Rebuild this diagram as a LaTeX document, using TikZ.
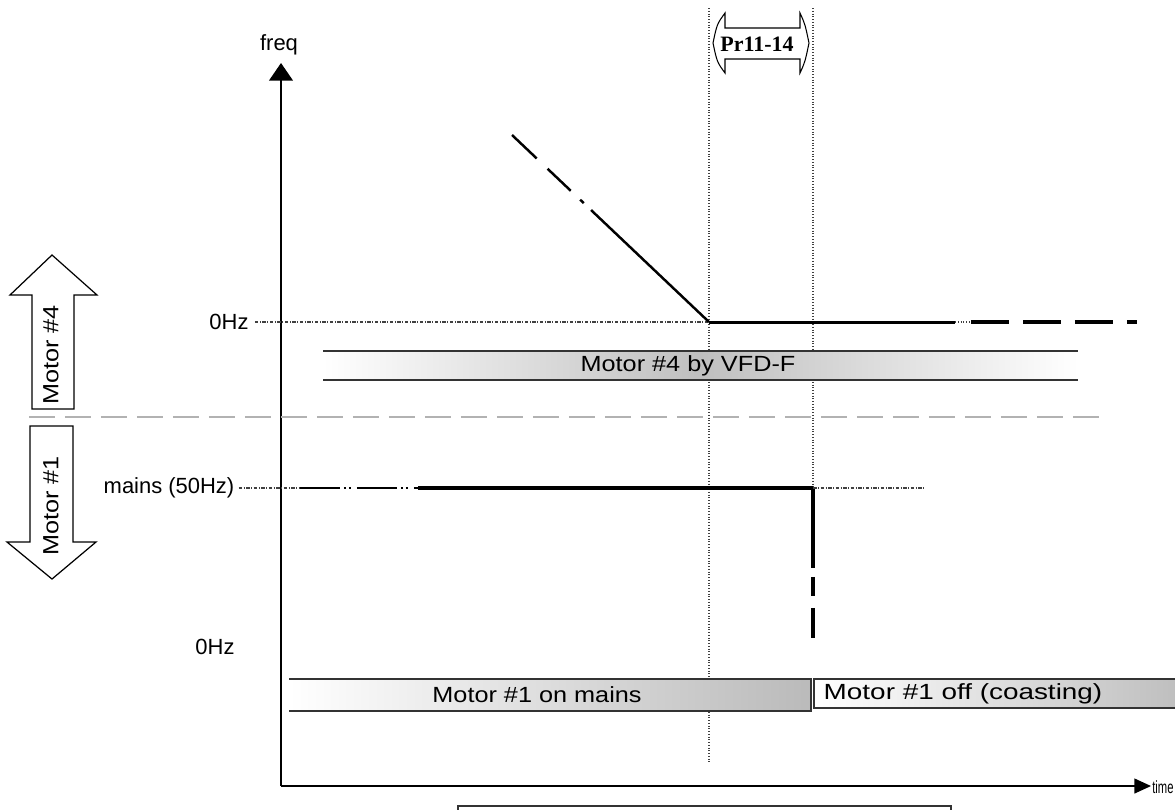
\documentclass[tikz,border=0pt]{standalone}
\usepackage{fontspec}
\setmainfont{Liberation Sans}
\newfontfamily\chartfont{Liberation Sans}
\newfontfamily\widefont[FakeStretch=1.15]{Liberation Sans}
\newfontfamily\coastfont[FakeStretch=1.27]{Liberation Sans}
\newfontfamily\smallfont[FakeStretch=0.64]{Liberation Sans}
\newfontfamily\parfont{Liberation Serif}
\usetikzlibrary{arrows.meta}

\begin{document}
\begin{tikzpicture}[x=0.02cm, y=-0.02cm, line join=miter,
    lbl/.style={font=\chartfont\fontsize{12.5}{14}\selectfont, inner sep=0pt},
    barlbl/.style={font=\widefont\fontsize{12.5}{14}\selectfont, inner sep=0pt},
    guide/.style={black!75, line width=0.6pt, dash pattern=on 0.02cm off 0.035cm},
    guideH/.style={black!75, line width=0.6pt, dash pattern=on 0.07cm off 0.03cm on 0.02cm off 0.03cm},
    trace/.style={black, line width=1.6pt},
    blockarrow/.style={draw=black, fill=white, line width=0.7pt}]

  \useasboundingbox (0,0) rectangle (1175,809);

  % Colors
  \colorlet{edgeCol}{black!80}
  \colorlet{sepCol}{black!30}
  \colorlet{barGray}{black!25}

  % Key points
  \coordinate (O)        at (281,786);
  \coordinate (fTop)     at (281,63);
  \coordinate (tEnd)     at (1151,786);
  \coordinate (rampTop)  at (512,135);
  \coordinate (vfdStart) at (709,322);
  \coordinate (mainsOff) at (813,488);

  % Time marks (vertical guides)
  \draw[guide] (709,8) -- (709,762);
  \draw[guide] (813,8) -- (mainsOff);

  % Pr11-14 interval
  \draw[blockarrow, line width=0.6pt] (725,28) -- (725,13) .. controls (717,24) .. (713,43)
    .. controls (717,62) .. (725,73) -- (725,59) -- (800,59) -- (800,73)
    .. controls (805,62) .. (809,43) .. controls (805,24) .. (800,13) -- (800,28) -- cycle;
  \node[font=\parfont\bfseries\fontsize{12.5}{14}\selectfont, inner sep=0pt] (prLbl) at (757,44) {Pr11-14};

  % Axes
  \draw[line width=0.85pt, -{Triangle[length=10pt,width=13.5pt]}] (O) -- (fTop);
  \draw[line width=0.85pt, -{Triangle[length=9.5pt,width=8.5pt]}] (O) -- (tEnd);
  \node[lbl, anchor=base] (freqLbl) at (279,50) {freq};
  \node[font=\smallfont\fontsize{10}{12}\selectfont, inner sep=0pt, anchor=west] (timeLbl) at (1152,787) {time};

  % Motor #4 (VFD side)
  \node[lbl] (zeroTop) at (229,322) {0Hz};
  \draw[guideH, shorten <=0.12cm] (zeroTop.east) -- (vfdStart);
  \draw[trace, line width=1.4pt, dash pattern=on 0.68cm off 0.3cm on 0.64cm off 0.26cm on 0.1cm off 0.2cm on 8cm off 1cm]
    (rampTop) -- (vfdStart);
  \draw[trace, line width=1.7pt] (vfdStart) -- (955,322);
  \draw[guide] (955,322) -- (971,322);
  \draw[trace, line width=1.9pt, dash pattern=on 0.76cm off 0.28cm] (971,322) -- (1137,322);

  \shade[left color=white, right color=white, middle color=barGray] (323,351) rectangle (1078,380);
  \draw[edgeCol, line width=0.9pt] (323,351) -- (1078,351) (323,380) -- (1078,380);
  \node[barlbl] (vfdLbl) at (688,366) {Motor \#4 by VFD-F};

  % Separator
  \draw[sepCol, line width=1.1pt, dash pattern=on 0.52cm off 0.2cm] (29,417) -- (1105,417);

  % Motor #1 (mains side)
  \node[lbl] (mainsLbl) at (169,488) {mains (50Hz)};
  \draw[guideH, shorten <=0.08cm] (mainsLbl.east) -- (300,488);
  \draw[black, line width=0.9pt, dash pattern=on 0.8cm off 0.08cm on 0.04cm off 0.06cm on 0.04cm off 0.12cm]
    (300,488) -- (418,488);
  \draw[trace, line width=2.2pt] (418,488) -- (mainsOff);
  \draw[trace, line width=2pt, dash pattern=on 1.6cm off 0.18cm on 0.38cm off 0.24cm on 0.6cm off 1cm]
    (mainsOff) -- (813,638);
  \draw[guideH] (mainsOff) -- (925,488);
  \node[lbl] (zeroBot) at (215,647) {0Hz};

  \shade[left color=white, right color=black!27] (289,679) rectangle (811,711);
  \draw[edgeCol, line width=0.9pt] (289,679) -- (811,679) -- (811,711) -- (289,711);
  \node[barlbl] (mainsBar) at (537,695) {Motor \#1 on mains};

  \shade[left color=white, right color=black!25] (814,679) rectangle (1175,708);
  \draw[edgeCol, line width=0.9pt] (1175,679) -- (814,679) -- (814,708) -- (1175,708);
  \node[font=\coastfont\fontsize{12.5}{14}\selectfont, inner sep=0pt] (coastBar) at (963,694) {Motor \#1 off (coasting)};

  % Box below the time axis
  \draw[edgeCol, line width=1.1pt] (458,812) -- (458,806) -- (951,806) -- (951,812);

  % Motor arrows
  \draw[blockarrow] (32,409) -- (32,295) -- (10,295) -- (52,255) -- (97,295) -- (74,295) -- (74,409) -- cycle;
  \node[barlbl, rotate=90] (motorFour) at (51,355) {Motor \#4};
  \draw[blockarrow] (30,426) -- (73,426) -- (73,542) -- (96,542) -- (52,579) -- (7,542) -- (30,542) -- cycle;
  \node[barlbl, rotate=90] (motorOne) at (51,506) {Motor \#1};

\end{tikzpicture}
\end{document}
